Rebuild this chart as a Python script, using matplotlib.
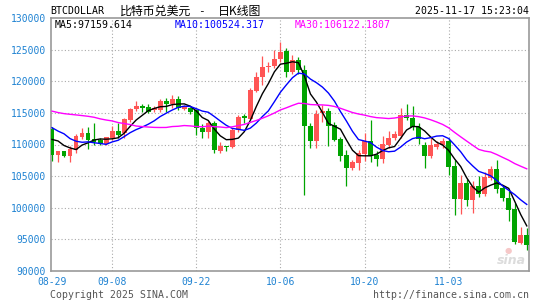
import numpy as np
import pandas as pd
import matplotlib
matplotlib.use('Agg')
from matplotlib import pyplot as plt

# daily candles 08-29 .. 11-16
dates = pd.date_range('2025-08-29', periods=80, freq='D').strftime('%m-%d').tolist()

open_ = [112500, 108300, 108900, 108200, 109100, 111250, 111850, 110800, 110700, 110100,
         110950, 112150, 111750, 113850, 115550, 116150, 115900, 115400, 115400, 116900,
         116400, 117200, 115600, 115800, 115400, 112650, 112000, 113450, 108950, 109750,
         109650, 112250, 114450, 114000, 118450, 120600, 122250, 122400, 123500, 124750,
         121400, 123400, 121700, 112900, 110600, 114950, 115300, 113150, 110850, 108300,
         106350, 107150, 108450, 110550, 108300, 107650, 109900, 110950, 111400, 114650,
         114250, 112800, 110000, 108200, 109650, 110000, 110550, 106600, 101400, 103950,
         101250, 103400, 102250, 104750, 106100, 103050, 101600, 99750, 94450, 95650]
high = [112700, 108950, 109000, 109750, 111700, 112600, 112700, 113400, 111000, 111250,
        112950, 113350, 114150, 115800, 116850, 116400, 116350, 116150, 117150, 117300,
        117900, 117700, 116250, 116000, 115600, 113200, 113700, 113700, 110350, 109750,
        112550, 114650, 114900, 118900, 121500, 123950, 123050, 125000, 126250, 125200,
        124200, 123900, 122600, 113350, 115450, 116200, 115700, 113600, 111250, 109100,
        107500, 109100, 111750, 113950, 108950, 111400, 112100, 112100, 115700, 116400,
        116100, 113450, 110450, 111050, 110550, 111050, 111000, 107500, 105200, 104550,
        104300, 105000, 105600, 106600, 107500, 103500, 102600, 100700, 96900, 96800]
low = [107400, 107300, 108050, 107300, 108700, 110900, 109350, 110000, 109900, 109900,
       110700, 110950, 111100, 113500, 115300, 115100, 115000, 115100, 115100, 115100,
       115800, 115400, 115500, 114800, 111500, 111100, 111100, 108600, 108600, 108950,
       109400, 112000, 113350, 113900, 118250, 119400, 121500, 122050, 123100, 120600,
       121100, 121100, 102000, 109500, 109500, 113600, 109800, 110500, 107400, 103500,
       106000, 106000, 107400, 107300, 106650, 107000, 109500, 110700, 111000, 113800,
       112300, 110100, 106300, 107800, 109300, 109400, 105200, 98900, 98950, 100200,
       99200, 101750, 101800, 104400, 102400, 101000, 97950, 94300, 94250, 93300]
close = [108300, 108900, 108200, 109300, 111300, 111850, 110700, 110400, 110100, 111150,
         112150, 111500, 114000, 115550, 116150, 115800, 115200, 115800, 116900, 116400,
         117200, 115700, 115900, 115100, 112650, 112000, 113350, 109100, 109750, 109600,
         112250, 114350, 114200, 118650, 120650, 122250, 122400, 123500, 124700, 121400,
         123400, 121700, 112850, 110600, 114900, 115300, 112950, 110700, 108200, 106350,
         107250, 108700, 110550, 108200, 107650, 110000, 110950, 111600, 114650, 114250,
         112800, 110800, 108200, 109900, 110150, 110550, 106500, 101450, 103950, 101250,
         103400, 102200, 104900, 106100, 103000, 101600, 99700, 94600, 95650, 94100]

# closes 07-31 .. 08-28, only there to warm up the moving averages
prior_close = [115700, 113300, 112500, 114200, 115000, 114100, 115000, 117500, 116700, 116500,
               119300, 118700, 120200, 123300, 118300, 117400, 117500, 117400, 116200, 112900,
               114300, 112500, 116900, 115400, 113500, 110100, 111800, 111200, 112600]

tick_dates = ['08-29', '09-08', '09-22', '10-06', '10-20', '11-03']
price_ticks = list(range(90000, 130001, 5000))

ma_periods = [5, 10, 30]
ma_colors = ['black', '#0000ff', '#ff00ff']
ma_labels = ['MA5:97159.614', 'MA10:100524.317', 'MA30:106122.1807']

RED = '#ff5555'
GREEN = '#00a400'
BLUE_TXT = '#1e82d2'
MONO = 'DejaVu Sans Mono'
CJK = ['Noto Sans CJK SC', 'DejaVu Sans']

W, H = 545, 300


def px(x, y):
    return x / W, 1 - y / H


def main():
    o = np.array(open_, dtype=float)
    c = np.array(close, dtype=float)
    hi = np.array(high, dtype=float)
    lo = np.array(low, dtype=float)
    x = np.arange(len(dates))

    fig = plt.figure(figsize=(W / 100, H / 100), dpi=100)
    fig.patch.set_facecolor('white')
    ax = fig.add_axes([51 / W, 1 - 271 / H, 478 / W, 253 / H])

    # grid
    for yv in price_ticks[1:-1]:
        ax.axhline(yv, color='#aaaaaa', lw=0.8, ls=(0, (1, 2)), zorder=0)
    xt = [dates.index(d) for d in tick_dates]
    for k in xt[1:]:
        ax.axvline(k, color='#aaaaaa', lw=0.8, ls=(0, (1, 2)), zorder=0)

    colors = np.where(c >= o, RED, GREEN)
    ax.vlines(x, lo, hi, colors=colors, lw=0.9, zorder=2)
    ax.bar(x, np.maximum(np.abs(c - o), 120), bottom=np.minimum(o, c), width=0.8,
           color=colors, linewidth=0, zorder=3)

    all_close = pd.Series(prior_close + close, dtype=float)
    n0 = len(prior_close)
    for p, col in zip(ma_periods, ma_colors):
        ma = all_close.rolling(p).mean().iloc[n0:].to_numpy()
        ax.plot(x, ma, color=col, lw=1.0, zorder=4)

    ax.set_xlim(-0.17, 79.37)
    ax.set_ylim(90000, 130000)
    ax.set_yticks(price_ticks)
    ax.set_yticklabels([str(v) for v in price_ticks])
    ax.set_xticks(xt)
    ax.set_xticklabels(tick_dates)
    ax.tick_params(length=0, colors=BLUE_TXT, labelsize=7)
    ax.tick_params(axis='y', pad=3.5)
    ax.tick_params(axis='x', pad=4)
    for lab in ax.get_xticklabels() + ax.get_yticklabels():
        lab.set_fontfamily(MONO)
    for s in ax.spines.values():
        s.set_color('#999999')
        s.set_linewidth(1.2)

    # header
    fig.text(*px(50, 11), 'BTCDOLLAR', family=MONO, fontsize=7.1, va='center')
    fig.text(*px(120, 11), '比特币兑美元', family=CJK, fontsize=8.6, va='center')
    fig.text(*px(198, 11), '-', family=MONO, fontsize=8, va='center')
    fig.text(*px(218, 11), '日K线图', family=CJK, fontsize=8.6, va='center')
    fig.text(*px(529, 11), '2025-11-17 15:23:04', family=MONO, fontsize=7.1,
             va='center', ha='right')

    # MA legend
    for xx, lab, col in zip([54.6, 174.8, 294.7], ma_labels, ma_colors):
        fig.text(*px(xx, 25), lab, family=MONO, fontsize=7.1, va='center', color=col)

    # watermark + footer
    fig.text(*px(511, 260), 'sina', family='DejaVu Sans', fontsize=9, style='italic',
             weight='bold', color='#dcdcdc', ha='center', va='center')
    fig.text(*px(508, 250), '●', family='DejaVu Sans', fontsize=6, color='#f6c8c8',
             ha='center', va='center')
    fig.text(*px(50, 295), 'Copyright 2025 SINA.COM', family=MONO, fontsize=7.1,
             va='center', color='#555555')
    fig.text(*px(529, 295), 'http://finance.sina.com.cn', family=MONO, fontsize=7.1,
             va='center', ha='right', color='#555555')

    fig.savefig('out.png', dpi=100)


if __name__ == '__main__':
    main()
